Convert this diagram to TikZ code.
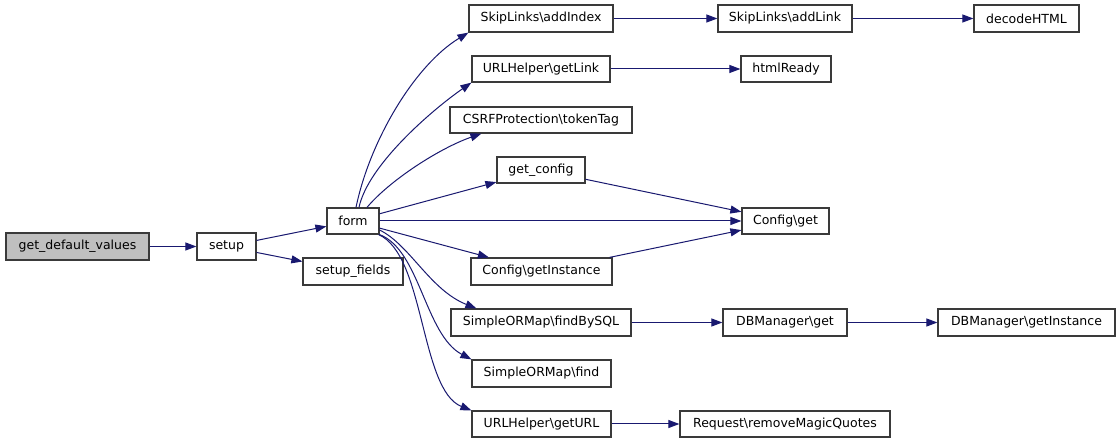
\documentclass[tikz,border=0pt]{standalone}
\usepackage{fontspec}
\setmainfont{DejaVu Sans}
\usetikzlibrary{arrows.meta,calc}
\definecolor{edgeblue}{HTML}{191970}
\definecolor{boxline}{HTML}{3A3A3A}
\definecolor{rootfill}{HTML}{BFBFBF}
\begin{document}
\begin{tikzpicture}[x=1pt,y=-1pt,
  box/.style={draw=boxline,line width=1.2pt,fill=white,minimum height=27pt,inner sep=0pt,
    font=\fontsize{12.5}{14}\selectfont,text=black,anchor=center},
  root/.style={box,fill=rootfill},
  call/.style={draw=edgeblue,line width=1pt,-{Triangle[length=11pt,width=8pt]}}]
\useasboundingbox (0,0) rectangle (1120,443);
\fill[white] (0,0) rectangle (1120,443);

\node[root,minimum width=143pt] (gdv) at (77.5,246.5) {get\_default\_values};
\node[box,minimum width=59pt] (setup) at (226.5,246.5) {setup};
\node[box,minimum width=52pt,minimum height=26pt] (form) at (353,221) {form};
\node[box,minimum width=100pt] (fields) at (353,271.5) {setup\_fields};

\node[box,minimum width=144pt] (addIndex) at (541,18.5) {SkipLinks\textbackslash addIndex};
\node[box,minimum width=134pt] (addLink) at (785,18.5) {SkipLinks\textbackslash addLink};
\node[box,minimum width=105pt] (decode) at (1026.5,18.5) {decodeHTML};
\node[box,minimum width=138pt,minimum height=26pt] (getLink) at (541,69) {URLHelper\textbackslash getLink};
\node[box,minimum width=90pt,minimum height=26pt] (html) at (786,69) {htmlReady};
\node[box,minimum width=182pt,minimum height=26pt] (csrf) at (541,120) {CSRFProtection\textbackslash tokenTag};
\node[box,minimum width=88pt,minimum height=26pt] (getconfig) at (541,170) {get\_config};
\node[box,minimum width=87pt,minimum height=26pt] (cget) at (785.5,221) {Config\textbackslash get};
\node[box,minimum width=141pt] (cinst) at (541.5,271.5) {Config\textbackslash getInstance};
\node[box,minimum width=180pt] (findsql) at (541,322.5) {SimpleORMap\textbackslash findBySQL};
\node[box,minimum width=124pt] (dbget) at (785,322.5) {DBManager\textbackslash get};
\node[box,minimum width=177pt] (dbinst) at (1026.5,322.5) {DBManager\textbackslash getInstance};
\node[box,minimum width=139pt] (find) at (541.5,373.5) {SimpleORMap\textbackslash find};
\node[box,minimum width=139pt,minimum height=26pt] (geturl) at (541.5,424) {URLHelper\textbackslash getURL};
\node[box,minimum width=210pt,minimum height=26pt] (request) at (785,424) {Request\textbackslash removeMagicQuotes};

\draw[call] (gdv) -- (setup);
\draw[call] (setup) -- (form);
\draw[call] (setup) -- (fields);

\draw[call] ($(form.north)+(3,0)$) .. controls (370,140) and (415,65) .. (addIndex.south west);
\draw[call] ($(form.north)+(6,0)$) .. controls (368,165) and (432,110) .. (getLink.south west);
\draw[call] ($(form.north)+(14,0)$) .. controls (390,180) and (440,148) .. ($(csrf.south west)+(32,0)$);
\draw[call] (form) -- (getconfig);
\draw[call] (form) -- (cget);
\draw[call] (form) -- (cinst);
\draw[call] ($(form.east)+(0,9)$) .. controls (410,245) and (430,290) .. ($(findsql.north west)+(26,0)$);
\draw[call] (form.south east) .. controls (420,250) and (425,335) .. (find.north west);
\draw[call] ($(form.south east)+(-1,0)$) .. controls (425,255) and (420,390) .. (geturl.north west);

\draw[call] (addIndex) -- (addLink);
\draw[call] (addLink) -- (decode);
\draw[call] (getLink) -- (html);
\draw[call] (getconfig) -- (cget);
\draw[call] (cinst) -- (cget);
\draw[call] (findsql) -- (dbget);
\draw[call] (dbget) -- (dbinst);
\draw[call] (geturl) -- (request);
\end{tikzpicture}
\end{document}
